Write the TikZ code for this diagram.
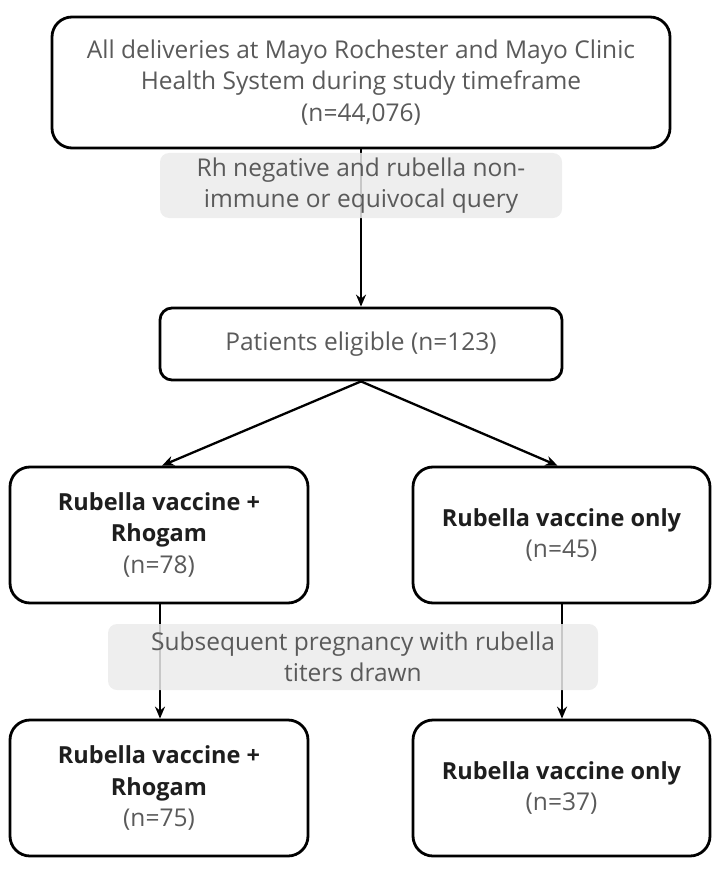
\documentclass[tikz,border=0pt]{standalone}
\usepackage{fontspec}
\setmainfont{Open Sans}
\usetikzlibrary{arrows.meta,calc}
\definecolor{txtgray}{HTML}{5A5A5A}
\definecolor{txtdark}{HTML}{1E1E1E}
\definecolor{lblgray}{HTML}{EBEBEB}
\tikzset{
  box/.style={draw=black, line width=2.8pt, rounded corners=20pt, fill=white, align=center,
    text=txtgray, font=\fontsize{24.5}{31.5}\selectfont, inner sep=0pt},
  lbl/.style={fill=lblgray, fill opacity=0.85, text opacity=1, rounded corners=9pt, align=center,
    text=txtgray, font=\fontsize{24.5}{31.5}\selectfont, inner sep=0pt},
  arr/.style={draw=black, line width=2.3pt, -{Stealth[length=12pt,width=10pt]}},
}
\newcommand{\bx}[1]{\textcolor{txtdark}{\fontsize{23.5}{31.5}\selectfont\textbf{#1}}}
\begin{document}
\begin{tikzpicture}[x=1pt,y=-1pt]
\useasboundingbox (0,0) rectangle (720,869);
\node[box, minimum width=618pt, minimum height=131pt] (top) at (361,82.5)
  {All deliveries at Mayo Rochester and Mayo Clinic\\Health System during study timeframe\\(n=44,076)};
\node[box, rounded corners=12pt, minimum width=402pt, minimum height=72pt] (pat) at (361,344)
  {Patients eligible (n=123)};
\node[box, minimum width=298pt, minimum height=136pt] (l1) at (159,535)
  {\bx{Rubella vaccine +}\\\bx{Rhogam}\\(n=78)};
\node[box, minimum width=297pt, minimum height=136pt] (r1) at (561.5,535)
  {\bx{Rubella vaccine only}\\(n=45)};
\node[box, minimum width=298pt, minimum height=136pt] (l2) at (159,788)
  {\bx{Rubella vaccine +}\\\bx{Rhogam}\\(n=75)};
\node[box, minimum width=297pt, minimum height=136pt] (r2) at (561.5,788)
  {\bx{Rubella vaccine only}\\(n=37)};
% connectors
\draw[arr] (top.south) -- (pat.north);
\draw[arr] (pat.south) -- ($(l1.north)+(3,0)$);
\draw[arr] (pat.south) -- ($(r1.north)+(-4,0)$);
\draw[arr] ($(l1.south)+(1,0)$) -- ($(l2.north)+(1,0)$);
\draw[arr] ($(r1.south)+(0.5,0)$) -- ($(r2.north)+(0.5,0)$);
% labels
\node[lbl, minimum width=402pt, minimum height=65pt] (g1) at (361,185.5)
  {Rh negative and rubella non-\\immune or equivocal query};
\node[lbl, minimum width=490pt, minimum height=66pt] (g2) at (353,657)
  {Subsequent pregnancy with rubella\\titers drawn};
\end{tikzpicture}
\end{document}
